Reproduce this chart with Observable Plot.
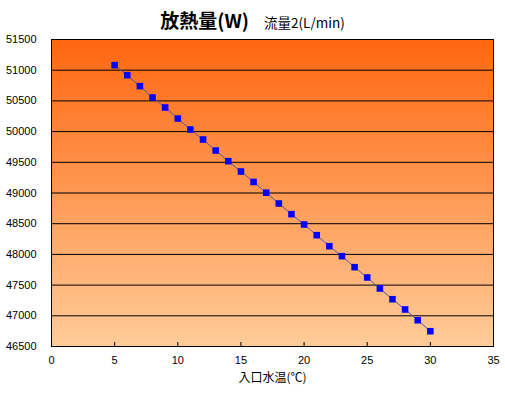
<!DOCTYPE html>
<html><head><meta charset="utf-8">
<script src="https://cdn.jsdelivr.net/npm/d3@7"></script>
<script src="https://cdn.jsdelivr.net/npm/@observablehq/plot@0.6"></script>
<style>
body{margin:0;background:#fff;}
#wrap{position:relative;width:505px;height:393px;}
#title{position:absolute;left:0;top:10px;width:505px;text-align:center;white-space:nowrap;font-family:"Noto Sans CJK JP",sans-serif;line-height:1;z-index:2;}
#title .t1{font-size:19px;font-weight:bold;}
#title .t2{font-size:13.5px;margin-left:15px;}
</style></head><body>
<div id="wrap"><div id="title"><span class="t1">放熱量(W)</span><span class="t2">流量2(L/min)</span></div></div>
<script>
const temps = [5,6,7,8,9,10,11,12,13,14,15,16,17,18,19,20,21,22,23,24,25,26,27,28,29,30];
const heat = [51082,50919,50740,50555,50393,50213,50034,49871,49692,49518,49350,49180,49005,48829,48655,48487,48313,48134,47971,47792,47624,47445,47270,47103,46928,46749];
const xTicks = [0,5,10,15,20,25,30,35];
const yTicks = [46500,47000,47500,48000,48500,49000,49500,50000,50500,51000,51500];
const gridValues = [47000,47500,48000,48500,49000,49500,50000,50500,51000];
const xLabel = "入口水温(℃)";

const data = temps.map((t,i)=>({t, w: heat[i]}));
const font = "Liberation Sans, Arial, sans-serif";

const chart = Plot.plot({
  width: 505, height: 393,
  marginLeft: 51, marginRight: 12, marginTop: 39, marginBottom: 47,
  style: {fontFamily: font, fontSize: "11px", color: "#000", background: "transparent"},
  x: {domain: [0,35]},
  y: {domain: [46500,51500]},
  marks: [
    Plot.frame({fill: "url(#bggrad)", stroke: null}),
    Plot.gridY(gridValues, {stroke: "#000", strokeOpacity: 1, strokeWidth: 1}),
    Plot.frame({stroke: "#000", strokeWidth: 1}),
    Plot.axisY({ticks: yTicks, tickSize: 0, tickPadding: 15, tickFormat: d => String(d), label: null, fontSize: 11}),
    Plot.axisX({ticks: xTicks, tickSize: -4, tickPadding: 14, tickFormat: d => String(d), label: null, fontSize: 11}),
    Plot.text([xLabel], {frameAnchor: "bottom", dy: 35, text: d => d, fontFamily: "Noto Sans CJK JP, sans-serif", fontSize: 12, fill: "#000"}),
    Plot.line(data, {x: "t", y: "w", stroke: "#55559a", strokeWidth: 1}),
    Plot.dot(data, {x: "t", y: "w", symbol: "square", r: 3.7, fill: "#0000ff", stroke: null})
  ]
});

const svg = d3.select(chart);
const defs = svg.insert("defs", ":first-child");
const g = defs.append("linearGradient").attr("id","bggrad").attr("x1",0).attr("y1",0).attr("x2",0).attr("y2",1);
g.append("stop").attr("offset","0%").attr("stop-color","#ff6610");
g.append("stop").attr("offset","100%").attr("stop-color","#ffcc99");

chart.style.position = "absolute";
chart.style.left = "0";
chart.style.top = "0";
document.getElementById("wrap").appendChild(chart);
</script>
</body></html>
